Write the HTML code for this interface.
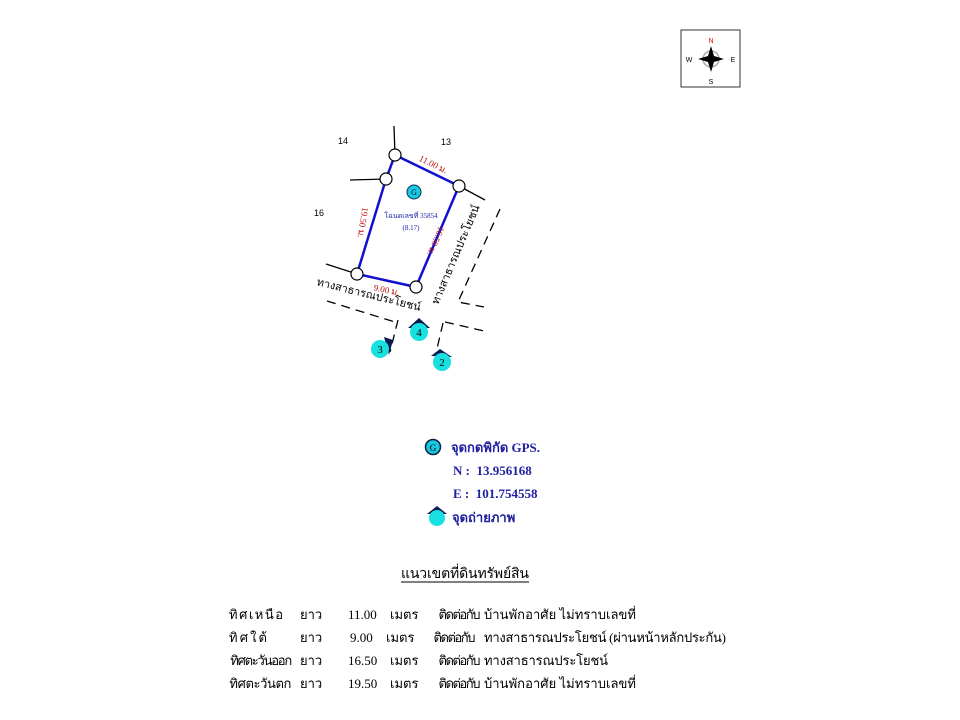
<!DOCTYPE html>
<html><head><meta charset="utf-8"><style>
body{margin:0;background:#fff;width:960px;height:720px;overflow:hidden}
svg{display:block}
text{font-family:"Liberation Serif","Noto Serif CJK SC","Noto Sans CJK SC",serif}
.a{font-family:"Liberation Sans",sans-serif}
</style></head><body>
<svg width="960" height="720" viewBox="0 0 960 720">
<!-- compass -->
<rect x="681" y="30" width="59" height="57" fill="#fff" stroke="#333" stroke-width="1"/>
<circle cx="711" cy="59" r="8" fill="none" stroke="#aaa" stroke-width="1.5"/>
<path d="M711 46 L714 56 L724 59 L714 62 L711 72 L708 62 L698 59 L708 56Z" fill="#000"/>
<text x="711" y="43" font-size="7" fill="#d00" text-anchor="middle" class="a">N</text>
<text x="711" y="84" font-size="7" text-anchor="middle" class="a">S</text>
<text x="689" y="62" font-size="7" text-anchor="middle" class="a">W</text>
<text x="733" y="62" font-size="7" text-anchor="middle" class="a">E</text>
<!-- black lines -->
<g stroke="#000" stroke-width="1.3">
<line x1="395" y1="155" x2="394" y2="126"/>
<line x1="386" y1="179" x2="350" y2="180"/>
<line x1="459" y1="186" x2="485" y2="200"/>
<line x1="357" y1="274" x2="326" y2="264"/>
</g>
<g stroke="#000" stroke-width="1.3" stroke-dasharray="9,6" fill="none">
<line x1="327" y1="301" x2="395" y2="322"/>
<line x1="445" y1="322" x2="484" y2="331"/>
<line x1="398" y1="320" x2="390" y2="352"/>
<line x1="443" y1="323" x2="436" y2="353"/>
<polyline points="500,209 458,302 484,307"/>
</g>
<polygon points="395,155 459,186 416,287 357,274 386,179" fill="none" stroke="#1010d0" stroke-width="2.5"/>
<g fill="#fff" stroke="#000" stroke-width="1.2">
<circle cx="395" cy="155" r="6"/><circle cx="459" cy="186" r="6"/><circle cx="416" cy="287" r="6"/><circle cx="357" cy="274" r="6"/><circle cx="386" cy="179" r="6"/>
</g>
<circle cx="414" cy="192" r="7" fill="#19c8e0" stroke="#0a3050" stroke-width="1"/>
<text x="414" y="195" font-size="8" text-anchor="middle" fill="#003">G</text>
<text x="411" y="218" font-size="7" fill="#2020b0" text-anchor="middle">โฉนดเลขที่ 35854</text>
<text x="411" y="230" font-size="7" fill="#2020b0" text-anchor="middle">(8.17)</text>
<text x="343" y="144" font-size="9" class="a" text-anchor="middle">14</text>
<text x="446" y="145" font-size="9" class="a" text-anchor="middle">13</text>
<text x="319" y="216" font-size="9" class="a" text-anchor="middle">16</text>
<g fill="#c01010" font-size="9">
<text transform="translate(432,167) rotate(26)" text-anchor="middle">11.00 ม.</text>
<text transform="translate(360,222) rotate(99)" text-anchor="middle">19.50 ม.</text>
<text transform="translate(433,240) rotate(113)" text-anchor="middle">16.50 ม.</text>
<text transform="translate(386,293) rotate(12)" text-anchor="middle">9.00 ม.</text>
</g>
<text transform="translate(368,298) rotate(14)" font-size="11" text-anchor="middle">ทางสาธารณประโยชน์</text>
<text transform="translate(459,256) rotate(-67)" font-size="11" text-anchor="middle">ทางสาธารณประโยชน์</text>
<!-- photo points -->
<g>
<path d="M408 328 L419 318 L430 328Z" fill="#0a1a50"/>
<circle cx="419" cy="332" r="9" fill="#19e0e0"/>
<text x="419" y="336" font-size="11" text-anchor="middle">4</text>
<path d="M384 337 L393 340 L389 355Z" fill="#0a1a50"/>
<circle cx="380" cy="349" r="9" fill="#19e0e0"/>
<text x="380" y="353" font-size="11" text-anchor="middle">3</text>
<path d="M431 356 L440 349 L452 357Z" fill="#0a1a50"/>
<circle cx="442" cy="362" r="9" fill="#19e0e0"/>
<text x="442" y="366" font-size="11" text-anchor="middle">2</text>
</g>
<!-- legend -->
<circle cx="433" cy="447" r="7.5" fill="#19c8e0" stroke="#0a2040" stroke-width="1.5"/>
<text x="433" y="451" font-size="9" text-anchor="middle">G</text>
<g fill="#2020a0" font-size="13" font-weight="bold">
<text x="451" y="452">จุดกดพิกัด GPS.</text>
<text x="453" y="475" xml:space="preserve">N :  13.956168</text>
<text x="453" y="498" xml:space="preserve">E :  101.754558</text>
<text x="452" y="522">จุดถ่ายภาพ</text>
</g>
<path d="M427 514 L437 506 L447 514Z" fill="#0a1a50"/>
<circle cx="437" cy="518" r="8" fill="#19e0e0"/>
<!-- table -->
<text x="465" y="578" font-size="14" text-anchor="middle" textLength="128">แนวเขตที่ดินทรัพย์สิน</text>
<line x1="401" y1="582" x2="529" y2="582" stroke="#000" stroke-width="1"/>
<g font-size="13">
<text x="229" y="619" textLength="54">ทิศเหนือ</text><text x="300" y="619">ยาว</text><text x="348" y="619">11.00</text><text x="390" y="619">เมตร</text><text x="437" y="619" textLength="42">ติดต่อกับ</text><text x="484" y="619" textLength="152">บ้านพักอาศัย ไม่ทราบเลขที่</text>
<text x="229" y="642" textLength="38">ทิศใต้</text><text x="300" y="642">ยาว</text><text x="350" y="642">9.00</text><text x="386" y="642">เมตร</text><text x="432" y="642" textLength="42">ติดต่อกับ</text><text x="484" y="642" textLength="242">ทางสาธารณประโยชน์ (ผ่านหน้าหลักประกัน)</text>
<text x="229" y="665" textLength="62">ทิศตะวันออก</text><text x="300" y="665">ยาว</text><text x="348" y="665">16.50</text><text x="390" y="665">เมตร</text><text x="437" y="665" textLength="42">ติดต่อกับ</text><text x="484" y="665" textLength="124">ทางสาธารณประโยชน์</text>
<text x="229" y="688" textLength="62">ทิศตะวันตก</text><text x="300" y="688">ยาว</text><text x="348" y="688">19.50</text><text x="390" y="688">เมตร</text><text x="437" y="688" textLength="42">ติดต่อกับ</text><text x="484" y="688" textLength="152">บ้านพักอาศัย ไม่ทราบเลขที่</text>
</g>
</svg>
</body></html>
